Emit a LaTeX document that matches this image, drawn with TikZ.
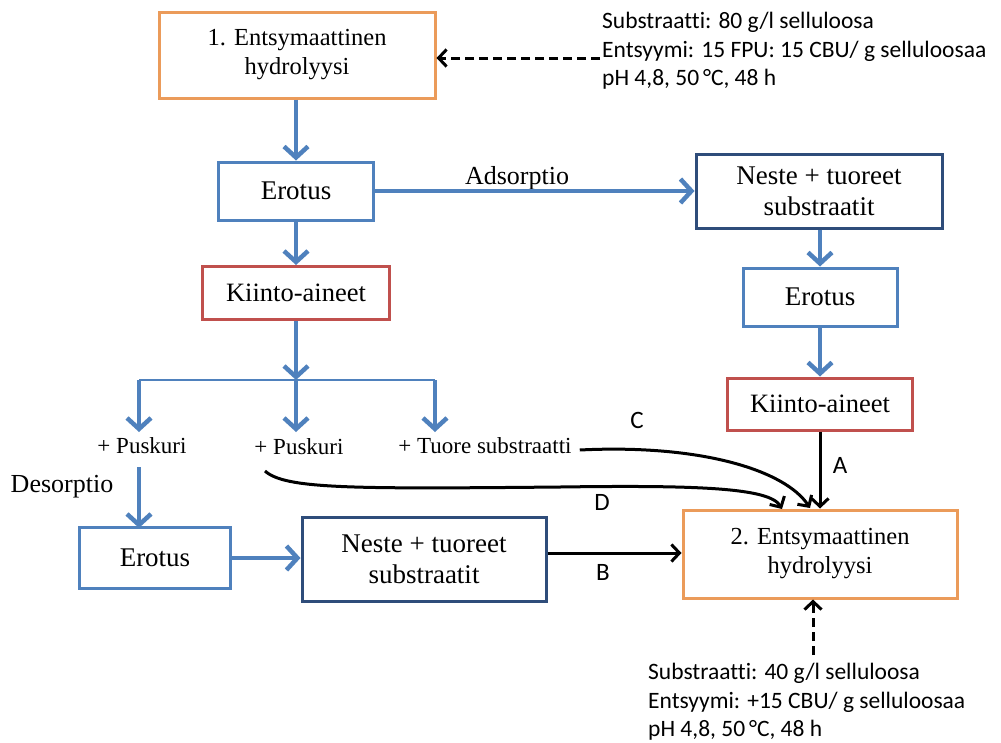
\documentclass[tikz,border=0pt]{standalone}
\usepackage{fontspec}
\setmainfont{Liberation Serif}
\newfontfamily\calfont[Ligatures=NoCommon]{Carlito}
\usetikzlibrary{arrows.meta}
\definecolor{orng}{RGB}{235,155,90}
\definecolor{redb}{RGB}{192,80,77}
\definecolor{lblue}{RGB}{79,129,189}
\definecolor{dblue}{RGB}{47,77,122}
\tikzset{
  box/.style={draw, line width=3pt, fill=white, align=center, inner sep=0pt},
  hbox/.style={box, draw=orng, font=\fontsize{24.5}{29}\selectfont},
  ebox/.style={box, draw=lblue, font=\fontsize{27}{31}\selectfont},
  kbox/.style={box, draw=redb, font=\fontsize{26.5}{31}\selectfont},
  nbox/.style={box, draw=dblue, font=\fontsize{27}{31}\selectfont},
  lab/.style={inner sep=0pt, font=\fontsize{23}{27}\selectfont},
  blab/.style={inner sep=0pt, font=\fontsize{26}{30}\selectfont},
  info/.style={inner sep=0pt, anchor=west, align=left, font=\calfont\fontsize{23.5}{28.5}\selectfont},
  letter/.style={inner sep=0pt, font=\calfont\fontsize{25}{30}\selectfont},
  barrow/.style={draw=lblue, line width=4.5pt, -{Straight Barb[length=11pt,width=24pt]}},
  thinline/.style={draw=lblue, line width=2pt},
  karrow/.style={draw=black, line width=3pt, -{Straight Barb[length=8pt,width=17pt]}},
  darrow/.style={karrow, dash pattern=on 9pt off 5pt},
}
\begin{document}
\begin{tikzpicture}[x=1pt,y=-1pt]
\useasboundingbox (0,0) rectangle (1001,742);

% boxes
\node[hbox, minimum width=276pt, minimum height=86pt] (h1) at (297,55) {1. Entsymaattinen\\hydrolyysi};
\node[ebox, minimum width=155pt, minimum height=58pt] (e1) at (296,191) {Erotus};
\node[kbox, minimum width=187pt, minimum height=53pt] (k1) at (296,293) {Kiinto-aineet};
\node[nbox, minimum width=246pt, minimum height=74pt] (n1) at (819,191) {Neste + tuoreet\\substraatit};
\node[ebox, minimum width=154pt, minimum height=58pt] (e2) at (820,297) {Erotus};
\node[kbox, minimum width=185pt, minimum height=52pt] (k2) at (820,404) {Kiinto-aineet};
\node[hbox, minimum width=274pt, minimum height=88pt] (h2) at (820,554) {2. Entsymaattinen\\hydrolyysi};
\node[ebox, minimum width=151pt, minimum height=61pt] (e3) at (155,558) {Erotus};
\node[nbox, minimum width=244pt, minimum height=84pt] (n2) at (424,559) {Neste + tuoreet\\substraatit};

% labels
\node[lab] (p1) at (142,446) {+ Puskuri};
\node[lab] (p2) at (299,447) {+ Puskuri};
\node[lab] (ts) at (485,446) {+ Tuore substraatti};
\node[blab] (ads) at (517,178) {Adsorptio};
\node[blab] (des) at (62,487) {Desorptio};

% info texts
\node[info] (i1) at (602,51) {Substraatti: 80 g/l selluloosa\\Entsyymi: 15 FPU: 15 CBU/ g selluloosaa\\pH 4,8, 50\,°C, 48 h};
\node[info] (i2) at (648,702) {Substraatti: 40 g/l selluloosa\\Entsyymi: +15 CBU/ g selluloosaa\\pH 4,8, 50\,°C, 48 h};

% letters
\node[letter] (la) at (840,465) {A};
\node[letter] (lb) at (603,572) {B};
\node[letter] (lc) at (637,420) {C};
\node[letter] (ld) at (602,502) {D};

% coordinates
\coordinate (br) at (296,380);
\coordinate (brl) at (139,380);
\coordinate (brr) at (435,380);
\coordinate (i1s) at (600,58);
\coordinate (i2s) at (813,655);

% blue arrows
\draw[barrow] (h1.south -| e1.north) -- (e1.north);
\draw[barrow] (e1.east) -- (n1.west |- e1.east);
\draw[barrow] (e1.south) -- (k1.north);
\draw[barrow] (n1.south -| e2.north) -- (e2.north);
\draw[barrow] (e2.south) -- (k2.north);
\draw[barrow] (k1.south) -- (br);
\draw[thinline] (brl) -- (brr);
\draw[barrow] (brl) -- (brl |- 0,432);
\draw[barrow] (br) -- (br |- 0,432);
\draw[barrow] (brr) -- (brr |- 0,432);
\draw[barrow] (139,467) -- (139,528);
\draw[barrow] (e3.east) -- (n2.west |- e3.east);

% black arrows
\draw[karrow] (k2.south) -- (h2.north);
\draw[karrow] (n2.east |- 0,553) -- (h2.west |- 0,553);
\draw[karrow] (ts.east) ++(8pt,-4pt) .. controls (700,444) and (785,470) .. (810,508);
\draw[karrow] (265,471) .. controls (285,489) and (350,489) .. (560,487) .. controls (700,485) and (770,488) .. (782,509);

% dashed arrows
\draw[darrow] (i1s) -- (h1.east |- i1s);
\draw[darrow] (i2s) -- (i2s |- h2.south);
\end{tikzpicture}
\end{document}
